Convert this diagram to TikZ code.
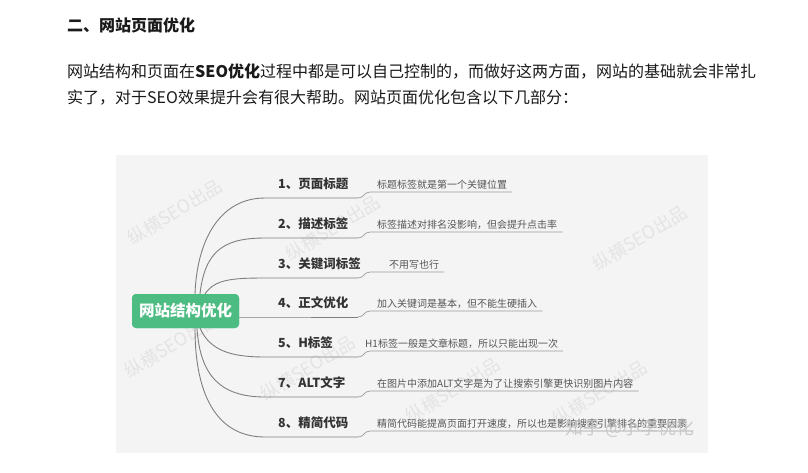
\documentclass[tikz,border=0pt]{standalone}
\usepackage{fontspec}
\setmainfont{Noto Sans CJK SC}
\definecolor{panel}{HTML}{F4F4F5}
\definecolor{nodegreen}{HTML}{4DBC82}
\definecolor{linegray}{HTML}{7F7F7F}
\definecolor{subgray}{HTML}{9C9C9C}
\definecolor{labelc}{HTML}{333333}
\definecolor{descc}{HTML}{555555}
\definecolor{bodyc}{HTML}{1A1A1A}
\definecolor{wmark}{HTML}{E4E4E4}
\definecolor{zhc}{HTML}{C4C4C4}
\begin{document}
\begin{tikzpicture}[x=1pt,y=-1pt,
  txt/.style={inner sep=0pt, anchor=west, text height=0.76em, text depth=0pt},
  bodytxt/.style={txt, text=bodyc, font=\fontsize{16}{16}\selectfont},
  headtxt/.style={txt, text=bodyc, font=\bfseries\fontsize{16}{16}\selectfont},
  labtxt/.style={txt, text=labelc, font=\bfseries\fontsize{12.5}{12.5}\selectfont},
  desctxt/.style={txt, text=descc, font=\fontsize{10}{10}\selectfont},
  wm/.style={inner sep=0pt, text=wmark, rotate=31, font=\fontsize{18}{18}\selectfont},
  br/.style={draw=linegray, line width=0.9pt},
  sub/.style={draw=subgray, line width=0.7pt},
  rootbox/.style={fill=nodegreen, rounded corners=4pt, minimum width=107pt, minimum height=34pt, inner sep=0pt, text=white, font=\bfseries\fontsize{15.5}{15.5}\selectfont}]
\fill[white] (0,0) rectangle (808,472);
\useasboundingbox (0,0) rectangle (808,472);
% header and body text
\node[headtxt] (head) at (67,28) {二、网站页面优化};
\node[bodytxt] (p1) at (67,74) {网站结构和页面在\textbf{SEO优化}过程中都是可以自己控制的，而做好这两方面，网站的基础就会非常扎};
\node[bodytxt] (p2) at (67,100) {实了，对于SEO效果提升会有很大帮助。网站页面优化包含以下几部分：};
% panel
\fill[panel] (116,155) rectangle (708,453);
% watermarks
\foreach \wx/\wy [count=\k] in {175/212, 333/228, 640/238, 172/345, 308/368, 453/390, 600/393}
  \node[wm] (wm\k) at (\wx,\wy) {纵横SEO出品};
% root node position
\node[rootbox] (root) at (185.5,311) {网站结构优化};
% branches: labels, descriptions, sub connectors
\foreach \i/\y/\lab/\dx/\desc in {
  1/198/{1、页面标题}/377/{标题标签就是第一个关键位置},
  2/238/{2、描述标签}/377/{标签描述对排名没影响，但会提升点击率},
  3/278/{3、关键词标签}/389/{不用写也行},
  4/317/{4、正文优化}/377/{加入关键词是基本，但不能生硬插入},
  5/357/{5、H标签}/365/{H1标签一般是文章标题，所以只能出现一次},
  7/397/{7、ALT文字}/377/{在图片中添加ALT文字是为了让搜索引擎更快识别图片内容},
  8/437/{8、精简代码}/377/{精简代码能提高页面打开速度，所以也是影响搜索引擎排名的重要因素}}{
  \node[labtxt] (l\i) at (278,{\y-13}) {\lab};
  \node[desctxt] (t\i) at (\dx,{\y-13}) {\desc};
  \coordinate (e\i) at (265,\y);
  \coordinate (m\i) at (358,\y);
  \coordinate (d\i) at (370,{\y-6});
  \coordinate (f\i) at (d\i -| t\i.east);
  \draw[sub] (m\i) .. controls +(6,0) and +(-6,0) .. (d\i) -- ([xshift=5pt]f\i);
}
% main curves
\coordinate (s1) at ([xshift=9.5pt]root.north);
\coordinate (s2) at ([xshift=14.5pt]root.north);
\coordinate (s3) at ([xshift=19.5pt]root.north);
\coordinate (s4) at ([yshift=-6pt]root.east);
\coordinate (s5) at ([xshift=14.5pt]root.south);
\coordinate (s7) at ([xshift=11.5pt]root.south);
\coordinate (s8) at ([xshift=9.5pt]root.south);
\draw[br] (s1) .. controls +(2,-54) and +(-45,0) .. (e1) -- (m1);
\draw[br] (s2) .. controls +(5,-44) and +(-40,0) .. (e2) -- (m2);
\draw[br] (s3) .. controls +(10,-14) and +(-35,0) .. (e3) -- (m3);
\draw[br] (s4) -- (e4) -- (m4);
\draw[br] (s5) .. controls +(10,22) and +(-35,0) .. (e5) -- (m5);
\draw[br] (s7) .. controls +(3,47) and +(-45,0) .. (e7) -- (m7);
\draw[br] (s8) .. controls +(0,72) and +(-45,0) .. (e8) -- (m8);
% root drawn on top of curve starts
\node[rootbox] (roottop) at (root.center) {网站结构优化};
% site watermark
\node[inner sep=0pt, text=zhc, opacity=0.85, font=\fontsize{18}{18}\selectfont] (zh) at (630,428) {知乎 @小李优化};
\end{tikzpicture}
\end{document}
